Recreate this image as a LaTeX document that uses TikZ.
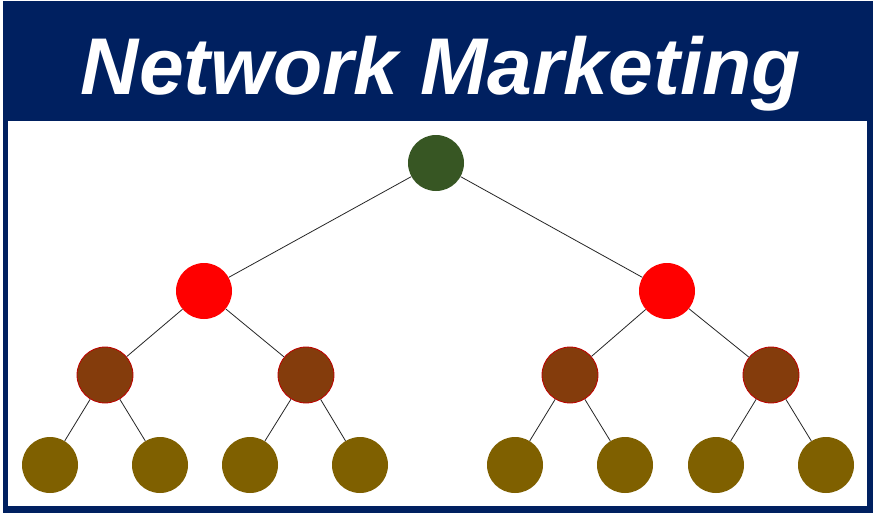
\documentclass[tikz,border=0pt]{standalone}
\usepackage{fontspec}
\newfontfamily\titlefont{Liberation Sans}
\usepackage{tikz}
\usetikzlibrary{calc}

\definecolor{navy}{HTML}{002060}
\definecolor{topgreen}{HTML}{375623}
\definecolor{brownnode}{HTML}{843C0C}
\definecolor{brownedge}{HTML}{C00000}
\definecolor{olivenode}{HTML}{7F6000}

\tikzset{
    member/.style={circle, inner sep=0pt, minimum size=56pt},
    link/.style={draw=black!85, line width=0.8pt}
}

\begin{document}
\begin{tikzpicture}[x=1pt, y=-1pt]
            \useasboundingbox (0,0) rectangle (876,515);
            \fill[white] (0,0) rectangle (876,515);
            \fill[navy] (3,1) rectangle (873,513);
            \fill[white] (8,121) rectangle (867,506);
            \node[text=white, anchor=base, inner sep=0pt] (title) at (441,94)
                {\titlefont\bfseries\itshape\fontsize{80.5}{90}\selectfont Network Marketing};

            % top of the network
            \node[member, fill=topgreen] (A) at (436,163) {};

            % second level
            \node[member, fill=red] (B) at (204,291) {};
            \node[member, fill=red] (C) at (667,291) {};

            % third level
            \node[member, fill=brownnode, draw=brownedge, line width=0.8pt] (D) at (105,375) {};
            \node[member, fill=brownnode, draw=brownedge, line width=0.8pt] (E) at (306,375) {};
            \node[member, fill=brownnode, draw=brownedge, line width=0.8pt] (F) at (570,375) {};
            \node[member, fill=brownnode, draw=brownedge, line width=0.8pt] (G) at (771,375) {};

            % bottom level
            \node[member, fill=olivenode] (H) at (50,465) {};
            \node[member, fill=olivenode] (I) at (160,465) {};
            \node[member, fill=olivenode] (J) at (250,465) {};
            \node[member, fill=olivenode] (K) at (360,465) {};
            \node[member, fill=olivenode] (L) at (515,465) {};
            \node[member, fill=olivenode] (M) at (625,465) {};
            \node[member, fill=olivenode] (N) at (716,465) {};
            \node[member, fill=olivenode] (O) at (826,465) {};

            \draw[link] (A) -- (B);
            \draw[link] (A) -- (C);
            \draw[link] (B) -- (D);
            \draw[link] (B) -- (E);
            \draw[link] (C) -- (F);
            \draw[link] (C) -- (G);
            \draw[link] (D) -- (H);
            \draw[link] (D) -- (I);
            \draw[link] (E) -- (J);
            \draw[link] (E) -- (K);
            \draw[link] (F) -- (L);
            \draw[link] (F) -- (M);
            \draw[link] (G) -- (N);
            \draw[link] (G) -- (O);
\end{tikzpicture}
\end{document}
